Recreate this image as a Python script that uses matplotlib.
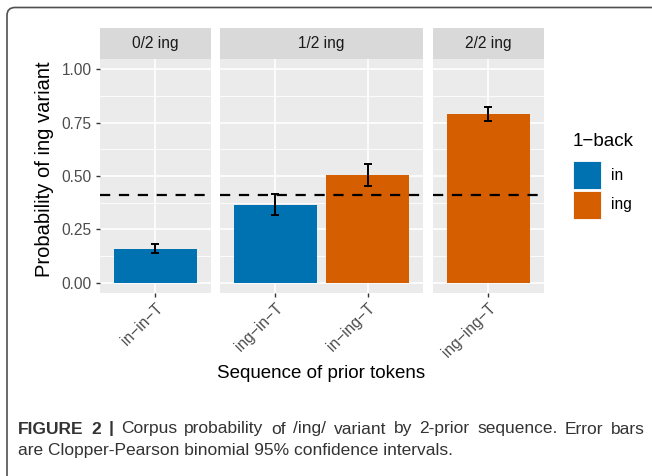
'''
Probability of ing variant by 2-prior sequence (faceted bar chart)
'''

import matplotlib
matplotlib.use('Agg')
import matplotlib.pyplot as plt
from matplotlib.patches import FancyBboxPatch, Rectangle
from matplotlib.transforms import IdentityTransform

plt.rcParams['font.family'] = ['Liberation Sans', 'DejaVu Sans']

# data
facets = ['0/2 ing', '1/2 ing', '2/2 ing']
sequences = [['in−in−T'], ['ing−in−T', 'in−ing−T'], ['ing−ing−T']]
one_back = [['in'], ['in', 'ing'], ['ing']]
prob = [[0.158], [0.364, 0.503], [0.791]]
ci_low = [[0.139], [0.316, 0.453], [0.760]]
ci_high = [[0.180], [0.417, 0.555], [0.822]]
baseline = 0.411

colors = {'in': '#0072B2', 'ing': '#D55E00'}
W, H = 652, 476
small = 11.2
big = 13.5
cap_size = 12.5

fig = plt.figure(figsize=(W / 100, H / 100), dpi=100)

# outer frame (rounded, runs off the right and bottom)
frame = FancyBboxPatch((7, -30), 700, H - 7.5 + 30,
                       boxstyle='round,pad=0,rounding_size=8',
                       transform=IdentityTransform(), facecolor='none',
                       edgecolor='#505050', linewidth=1.2)
fig.patches.append(frame)

panel_x = [(100, 210.7), (220, 423), (433, 543.5)]
top, bottom = 58.7, 293.4
strip_top = 28

def fx(px):
    return px / W

def fy(py):
    return 1 - py / H

for i, name in enumerate(facets):
    x0, x1 = panel_x[i]
    ax = fig.add_axes([fx(x0), fy(bottom), fx(x1 - x0), fy(top) - fy(bottom)])
    n = len(sequences[i])
    pos = list(range(1, n + 1))
    ax.set_facecolor('#EBEBEB')
    ax.set_xlim(0.4, n + 0.6)
    ax.set_ylim(-0.05, 1.05)
    for v in [0.125, 0.375, 0.625, 0.875]:
        ax.axhline(v, color='white', lw=0.6, zorder=0.5)
    for v in [0, 0.25, 0.5, 0.75, 1.0]:
        ax.axhline(v, color='white', lw=1.2, zorder=0.6)
    for p in pos:
        ax.axvline(p, color='white', lw=1.2, zorder=0.6)
    ax.bar(pos, prob[i], width=0.9, color=[colors[c] for c in one_back[i]], zorder=2)
    err = [[p - l for p, l in zip(prob[i], ci_low[i])],
           [h - p for p, h in zip(prob[i], ci_high[i])]]
    ax.errorbar(pos, prob[i], yerr=err, fmt='none', ecolor='black',
                elinewidth=1.4, capsize=3, capthick=1.4, zorder=3)
    ax.axhline(baseline, color='black', lw=1.6, dashes=(4.6, 3.9), zorder=4)

    for s in ax.spines.values():
        s.set_visible(False)
    ax.set_xticks(pos)
    ax.set_xticklabels(sequences[i], rotation=45, ha='right', va='top',
                       rotation_mode='anchor', fontsize=small, color='#4D4D4D')
    ax.tick_params(axis='x', length=3, width=1, color='#333333', pad=2)
    if i == 0:
        ax.set_yticks([0, 0.25, 0.5, 0.75, 1.0])
        ax.set_yticklabels(['0.00', '0.25', '0.50', '0.75', '1.00'],
                           fontsize=small, color='#4D4D4D')
        ax.tick_params(axis='y', length=3, width=1, color='#333333', pad=3)
    else:
        ax.set_yticks([])

    # strip on top
    sax = fig.add_axes([fx(x0), fy(top), fx(x1 - x0), fy(strip_top) - fy(top)])
    sax.set_facecolor('#D9D9D9')
    sax.set_xticks([])
    sax.set_yticks([])
    for s in sax.spines.values():
        s.set_visible(False)
    sax.text(0.5, 0.5, name, ha='center', va='center', fontsize=small,
             color='#1A1A1A', transform=sax.transAxes)

fig.text(fx(45), fy(169), 'Probability of ing variant', rotation=90,
         ha='center', va='center', fontsize=14.5)
fig.text(fx(321.5), fy(373), 'Sequence of prior tokens', ha='center',
         va='center', fontsize=big)

# legend
fig.text(fx(573), fy(142), '1−back', ha='left', va='center', fontsize=big)
for k, lab in enumerate(['in', 'ing']):
    ytop = 161 + k * 30
    fig.patches.append(Rectangle((fx(573), fy(ytop + 28)), fx(28), fy(ytop) - fy(ytop + 28),
                                 transform=fig.transFigure, facecolor=colors[lab],
                                 edgecolor='white', linewidth=0.6))
    fig.text(fx(611), fy(ytop + 14), lab, ha='left', va='center', fontsize=small)

# caption, first line justified between x=18 and x=645
r = fig.canvas.get_renderer()
cap_words = [('FIGURE', 'bold'), ('2', 'bold'), ('|', 'bold')] + \
    [(w, 'normal') for w in
     'Corpus probability of /ing/ variant by 2-prior sequence. Error bars'.split()]
texts = []
total = 0
for w, weight in cap_words:
    t = fig.text(0, fy(429), w, ha='left', va='center', fontsize=cap_size,
                 fontweight=weight, color='#333333')
    wd = t.get_window_extent(renderer=r).width
    texts.append((t, wd))
    total += wd
gap = (645 - 18 - total) / (len(texts) - 1)
xpos = 18
for t, wd in texts:
    t.set_x(xpos / W)
    xpos += wd + gap
fig.text(fx(18), fy(451), 'are Clopper-Pearson binomial 95% confidence intervals.',
         ha='left', va='center', fontsize=cap_size, color='#333333')

fig.savefig('out.png', dpi=100)
